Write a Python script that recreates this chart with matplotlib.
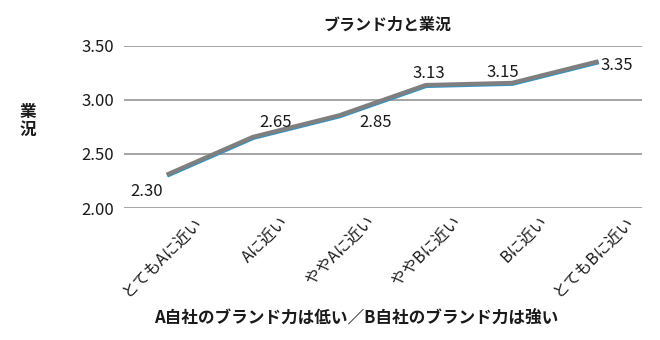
import matplotlib
matplotlib.use("Agg")
import matplotlib.pyplot as plt
import matplotlib.transforms as mtransforms

plt.rcParams['font.family'] = ['Noto Sans CJK JP', 'DejaVu Sans']

# brand position vs. business condition
categories = ["とてもAに近い", "Aに近い", "ややAに近い", "ややBに近い", "Bに近い", "とてもBに近い"]
values = [2.30, 2.65, 2.85, 3.13, 3.15, 3.35]
yticks = [2.00, 2.50, 3.00, 3.50]

# where each value label sits relative to its point (pixels)
label_offsets = [(-21, -16), (22, 15), (36, -6), (3, 12), (-10, 11), (18, -3)]

fig = plt.figure(figsize=(6.6, 3.4), dpi=100)
ax = fig.add_axes([124 / 660, 1 - 208 / 340, 518 / 660, 162 / 340])

x = list(range(len(categories)))

# blue base line with the grey line drawn just above it
ax.plot(x, values, color="#2e95c9", linewidth=3.0, solid_capstyle="butt", zorder=3)
shift = mtransforms.offset_copy(ax.transData, fig=fig, x=-0.5, y=0.9, units="dots")
ax.plot(x, values, color="#7f7f7f", linewidth=3.0, solid_capstyle="butt",
        solid_joinstyle="miter", transform=shift, zorder=4)

for xi, v, (dx, dy) in zip(x, values, label_offsets):
    ax.annotate(f"{v:.2f}", (xi, v), xytext=(dx, dy), textcoords="offset pixels",
                ha="center", va="center", fontsize=12, color="#1a1a1a", zorder=5)

ax.set_xlim(-0.5, len(categories) - 0.5)
ax.set_ylim(2.0, 3.5)
ax.set_yticks(yticks)
ax.set_yticklabels([f"{t:.2f}" for t in yticks])
ax.yaxis.grid(True, color="#8c8c8c", linewidth=1.1)
ax.set_axisbelow(True)
for s in ax.spines.values():
    s.set_visible(False)
ax.tick_params(axis="y", length=0, pad=7, labelsize=12, labelcolor="#1a1a1a")
ax.tick_params(axis="x", length=0)

ax.set_xticks(x)
ax.set_xticklabels(categories, rotation=45, ha="right", va="center",
                   rotation_mode="anchor", fontsize=11.5, color="#1a1a1a")
tick_shift = mtransforms.ScaledTranslation(32 / 100, -6 / 100, fig.dpi_scale_trans)
for lbl in ax.get_xticklabels():
    lbl.set_transform(lbl.get_transform() + tick_shift)

fig.text(387 / 660, 1 - 25 / 340, "ブランド力と業況", ha="center", va="center",
         fontsize=11.5, fontweight="bold", color="#1a1a1a")
fig.text(28 / 660, 1 - 121 / 340, "業\n況", ha="center", va="center",
         fontsize=12, fontweight="bold", color="#1a1a1a", linespacing=1.0)
fig.text(356 / 660, 1 - 318 / 340, "A自社のブランド力は低い／B自社のブランド力は強い",
         ha="center", va="center", fontsize=12, fontweight="bold", color="#1a1a1a")

fig.savefig("out.png", dpi=100)
